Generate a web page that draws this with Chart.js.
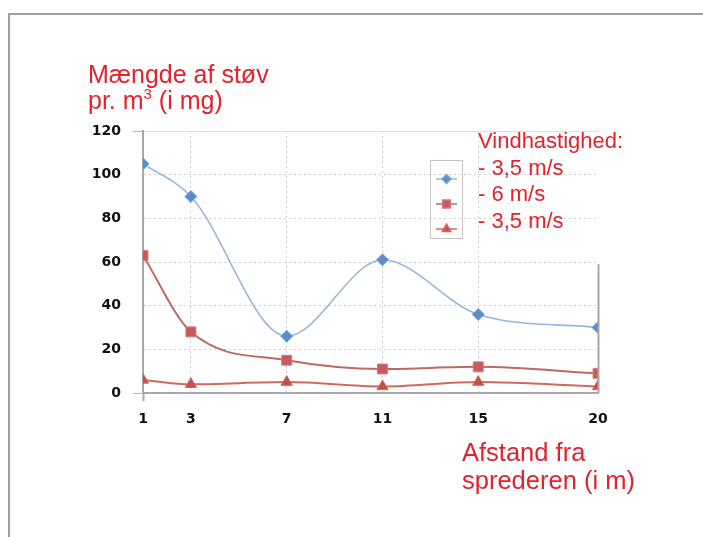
<!DOCTYPE html>
<html><head><meta charset="utf-8">
<script src="https://cdn.jsdelivr.net/npm/chart.js@4"></script>
<style>
html,body{margin:0;padding:0;width:703px;height:537px;overflow:hidden;background:#fff;}
#frame{position:absolute;left:8px;top:13px;width:760px;height:600px;border:2px solid #a0a0a0;box-sizing:border-box;}
canvas{position:absolute;left:0;top:0;}
.lbl{position:absolute;color:#e3212d;font-family:"Liberation Sans",Arial,sans-serif;white-space:nowrap;}
.sup{font-size:15px;position:relative;top:-10px;}
</style></head><body>
<div id="frame"></div>
<canvas id="c" width="703" height="537"></canvas>
<div class="lbl" style="left:88px;top:61px;font-size:25px;line-height:26px;">Mængde af støv<br>pr. m<span class="sup">3</span> (i mg)</div>
<div class="lbl" id="leg" style="left:478px;top:128px;font-size:22px;line-height:26.5px;"></div>
<div class="lbl" style="left:462px;top:438px;font-size:25.5px;line-height:28px;">Afstand fra<br>sprederen (i m)</div>
<script>
const xValues = [1, 3, 7, 11, 15, 20];
const series1 = [105, 90, 26, 61, 36, 30];
const series2 = [63, 28, 15, 11, 12, 9];
const series3 = [6, 4, 5, 3, 5, 3];
const yTicks = [0, 20, 40, 60, 80, 100, 120];
const legendTitle = 'Vindhastighed:';
const legendLabels = ['- 3,5 m/s', '- 6 m/s', '- 3,5 m/s'];

document.getElementById('leg').innerHTML = [legendTitle].concat(legendLabels).join('<br>');

const pts = s => xValues.map((x, i) => ({x: x, y: s[i]}));

const legendBox = {
  id: 'legendBox',
  afterDraw(chart) {
    const ctx = chart.ctx;
    ctx.save();
    ctx.strokeStyle = '#c4c4c4';
    ctx.lineWidth = 1;
    ctx.strokeRect(430.5, 160.5, 32, 78);
    const ys = [179, 204, 229];
    chart.data.datasets.forEach((ds, i) => {
      ctx.strokeStyle = ds.borderColor;
      ctx.lineWidth = 1.5;
      ctx.beginPath(); ctx.moveTo(436, ys[i]); ctx.lineTo(457, ys[i]); ctx.stroke();
      ctx.fillStyle = ds.pointBackgroundColor;
      ctx.strokeStyle = ds.pointBorderColor;
      Chart.helpers.drawPoint(ctx, {pointStyle: ds.pointStyle, radius: ds.pointRadius - 1.5, borderWidth: 1, rotation: 0}, 446.5, ys[i]);
    });
    const xs = chart.scales.x, yS = chart.scales.y;
    const px = Math.round(xs.getPixelForValue(xValues[xValues.length - 1])) + 0.5;
    ctx.strokeStyle = '#a8a8a8';
    ctx.lineWidth = 2;
    ctx.beginPath(); ctx.moveTo(px, yS.getPixelForValue(59)); ctx.lineTo(px, yS.getPixelForValue(0)); ctx.stroke();
    ctx.restore();
  }
};

const tickFont = {family: 'DejaVu Sans', weight: 'bold', size: 14};

new Chart(document.getElementById('c'), {
  type: 'line',
  data: {
    datasets: [
      {data: pts(series1), borderColor: '#98b8da', borderWidth: 1.6, pointStyle: 'rectRot', pointRadius: 6,
       pointBackgroundColor: '#5b8cc8', pointBorderColor: '#7aa3d4', pointBorderWidth: 1, cubicInterpolationMode: 'monotone'},
      {data: pts(series2), borderColor: '#bd6a63', borderWidth: 2, pointStyle: 'rect', pointRadius: 7,
       pointBackgroundColor: '#c65a5c', pointBorderColor: '#d07a78', pointBorderWidth: 1, cubicInterpolationMode: 'monotone'},
      {data: pts(series3), borderColor: '#cf6a5c', borderWidth: 2, pointStyle: 'triangle', pointRadius: 6.5,
       pointBackgroundColor: '#c4504a', pointBorderColor: '#d06a60', pointBorderWidth: 1, cubicInterpolationMode: 'monotone'}
    ]
  },
  options: {
    responsive: false,
    animation: false,
    events: [],
    layout: {padding: {left: 93, right: 105, top: 131, bottom: 104}},
    plugins: {legend: {display: false}, tooltip: {enabled: false}},
    scales: {
      x: {
        type: 'linear', min: xValues[0], max: xValues[xValues.length - 1],
        afterBuildTicks: s => { s.ticks = xValues.map(v => ({value: v})); },
        afterFit: s => { s.height = 40; },
        ticks: {padding: 10, color: '#111', font: tickFont},
        grid: {
          color: c => c.index === xValues.length - 1 ? 'rgba(0,0,0,0)' : '#cfcfcf',
          lineWidth: 1, tickLength: 8,
          tickColor: c => c.index === 0 ? '#a8a8a8' : 'rgba(0,0,0,0)', tickWidth: 2
        },
        border: {color: '#a8a8a8', width: 2, dash: [2, 3]}
      },
      y: {
        min: 0, max: 120,
        afterBuildTicks: s => { s.ticks = yTicks.map(v => ({value: v})); },
        afterFit: s => { s.width = 50; },
        ticks: {padding: 12, color: '#111', font: tickFont},
        grid: {
          color: c => c.tick && c.tick.value === 120 ? '#dedede' : '#cfcfcf',
          lineWidth: 1, tickLength: 10,
          tickColor: c => c.tick && (c.tick.value === 0 || c.tick.value === 120) ? '#b8b8b8' : 'rgba(0,0,0,0)'
        },
        border: {color: '#a8a8a8', width: 2, dash: c => c.tick && c.tick.value === 120 ? [] : [2, 3]}
      }
    }
  },
  plugins: [legendBox]
});
</script>
</body></html>
